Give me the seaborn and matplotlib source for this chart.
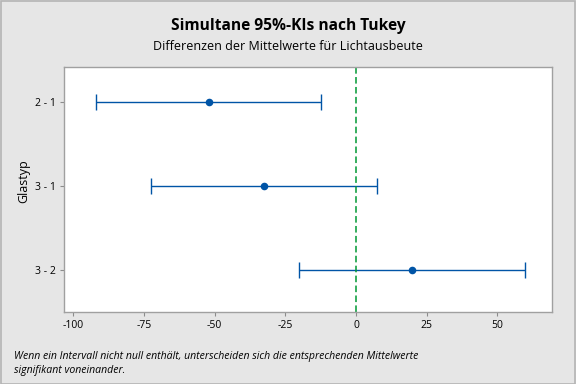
import matplotlib
matplotlib.use("Agg")
import matplotlib.pyplot as plt
import seaborn as sns
import pandas as pd
from matplotlib.patches import Rectangle

# Tukey simultaneous 95% CIs, difference of means
pairs = ["2 - 1", "3 - 1", "3 - 2"]
diff = [-52.0, -32.4, 19.9]
lower = [-92.0, -72.3, -20.0]
upper = [-12.2, 7.5, 59.8]
xticks = [-100, -75, -50, -25, 0, 25, 50]

df = pd.DataFrame({"pair": pairs, "diff": diff, "lower": lower, "upper": upper})
df["pos"] = range(len(df))

sns.set_theme(style="white")
plt.rcParams['font.family'] = ['Open Sans', 'DejaVu Sans']
plt.rcParams['text.color'] = 'black'
plt.rcParams['axes.labelcolor'] = 'black'
plt.rcParams['xtick.labelcolor'] = 'black'
plt.rcParams['ytick.labelcolor'] = 'black'

bg = '#E6E6E6'
blue = '#0054A6'
fig = plt.figure(figsize=(5.76, 3.84), dpi=100, facecolor=bg)
ax = fig.add_axes([64/576, 1 - 312/384, (552-64)/576, (312-67)/384])
ax.set_facecolor('white')

err = [df["diff"] - df["lower"], df["upper"] - df["diff"]]
ax.errorbar(df["diff"], df["pos"], xerr=err, fmt='none', ecolor=blue,
            elinewidth=1.0, capsize=6, capthick=1.0)
sns.scatterplot(data=df, x="diff", y="pos", color=blue, s=30, edgecolor=blue,
                linewidth=0, ax=ax, zorder=3)
ax.axvline(0, color='#009933', linestyle=(0, (4.3, 2.2)), linewidth=1.1)

ax.set_xlim(-103.2, 69.3)
ax.set_ylim(2.5, -0.42)
ax.set_xticks(xticks)
ax.set_xticklabels([str(t) for t in xticks], fontsize=7.5)
ax.set_yticks(df["pos"])
ax.set_yticklabels(pairs, fontsize=7.5)
ax.tick_params(axis='both', direction='out', length=3, width=0.8, color='#8C8C8C',
               bottom=True, left=True, pad=3)
ax.set_xlabel("")
ax.set_ylabel("Glastyp", fontsize=9)
ax.yaxis.set_label_coords(-0.070, 0.535)
for s in ax.spines.values():
    s.set_color('#A0A0A0')
    s.set_linewidth(1.0)

fig.text(0.5, 1 - 26/384, "Simultane 95%-KIs nach Tukey", ha='center', va='center',
         fontsize=11.2, fontweight='bold')
fig.text(0.5, 1 - 47/384, "Differenzen der Mittelwerte für Lichtausbeute", ha='center',
         va='center', fontsize=9)
fig.text(14/576, 1 - 356/384, "Wenn ein Intervall nicht null enthält, unterscheiden sich die entsprechenden Mittelwerte",
         ha='left', va='center', fontsize=7.6, style='italic')
fig.text(14/576, 1 - 371/384, "signifikant voneinander.", ha='left', va='center',
         fontsize=7.6, style='italic')

fig.patches.append(Rectangle((0.001, 0.001), 0.997, 0.997, transform=fig.transFigure,
                             fill=False, edgecolor='#B4B4B4', linewidth=1.2))

fig.savefig("out.png", dpi=100, facecolor=bg)
